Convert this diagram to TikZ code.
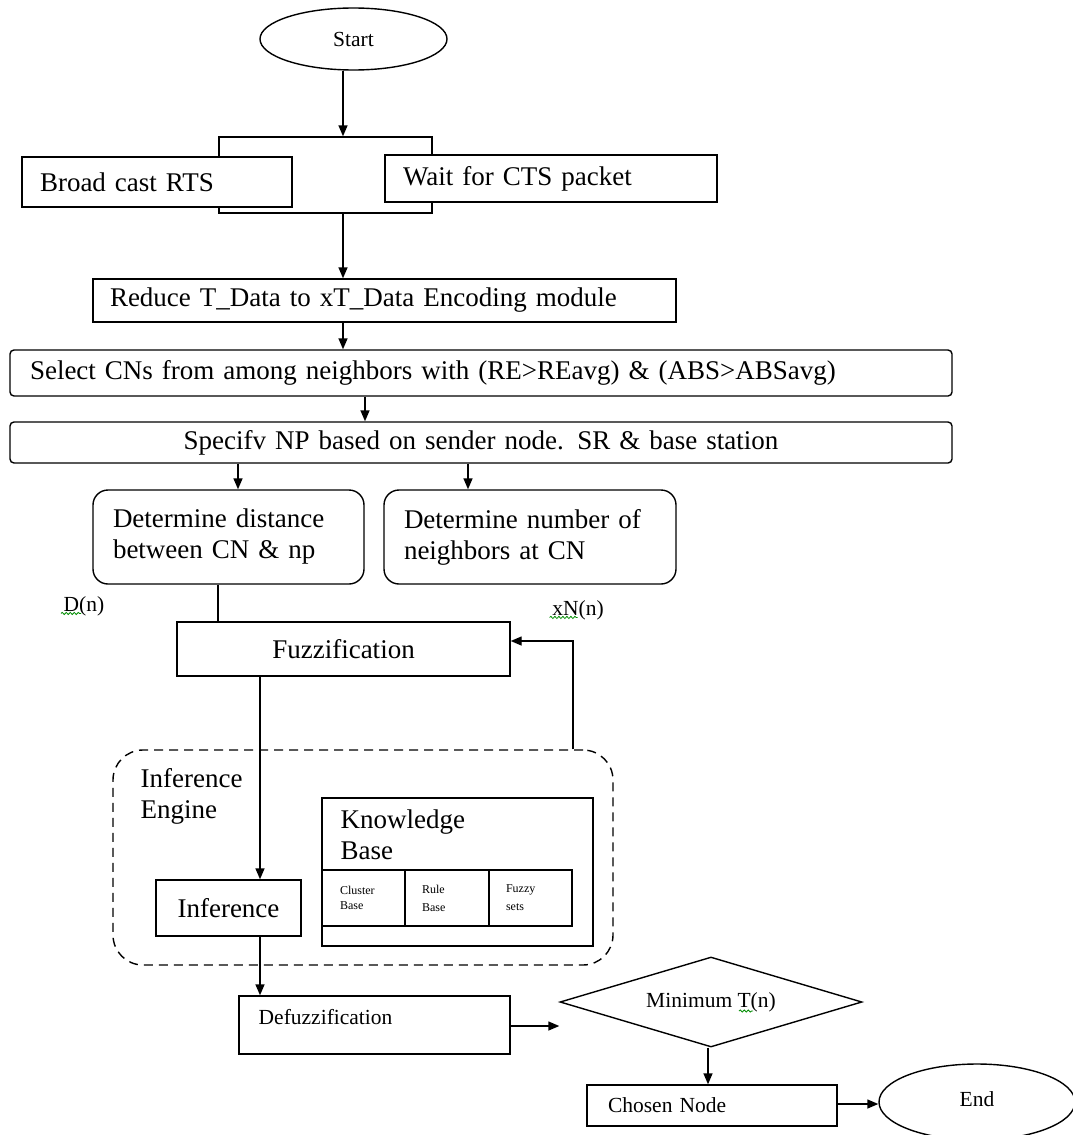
\documentclass[tikz,border=0pt]{standalone}
\usepackage{fontspec}
\setmainfont{Liberation Serif}
\usetikzlibrary{arrows.meta,shapes.geometric,decorations.pathmorphing}
\newcommand\fzmain{\fontsize{27}{31}\selectfont}
\newcommand\fzsmall{\fontsize{21.5}{25}\selectfont}
\newcommand\fztiny{\fontsize{12}{18}\selectfont}
\begin{document}
\begin{tikzpicture}[x=1pt,y=-1pt,line width=1.4pt,
  arr/.style={-{Triangle[length=11pt,width=9pt]}},
  boxc/.style={draw,rectangle,inner sep=0pt,font=\fzmain,fill=white},
  boxl/.style={draw,rectangle,inner ysep=0pt,font=\fzmain,align=left,fill=white},
  rbox/.style={boxl,rounded corners=4pt},
  dbox/.style={boxl,rounded corners=15pt},
  lbl/.style={inner sep=0pt,font=\fzsmall},
  squig/.style={draw=green!55!black,line width=0.8pt,decorate,decoration={snake,amplitude=1.1pt,segment length=4pt}}
]
\useasboundingbox (0,0) rectangle (1073,1135);
\clip (0,0) rectangle (1073,1135);

% top
\node[draw,ellipse,minimum width=187pt,minimum height=62pt,inner sep=0pt,font=\fzsmall] (start) at (353.5,39) {Start};
\node[draw,minimum width=213pt,minimum height=76pt,inner sep=0pt] (back) at (325.5,175) {};
\node[boxl,minimum height=50pt,inner xsep=18pt,text width=234pt] (bcast) at (157,182) {Broad cast RTS};
\node[boxl,minimum height=47pt,inner xsep=18pt,text width=296pt] (wait) at (551,178.5) {Wait for CTS packet};
\node[boxl,minimum height=43pt,inner xsep=17pt,text width=549pt] (reduce) at (384.5,300.5) {Reduce T\_Data to xT\_Data Encoding module};
\node[rbox,minimum height=46pt,inner xsep=20pt,text width=902pt] (select) at (481,373) {Select CNs from among neighbors with (RE>REavg) \& (ABS>ABSavg)};
\node[rbox,minimum height=41pt,inner xsep=20pt,text width=902pt,align=center] (spec) at (481,442.5) {Specifv NP based on sender node. SR \& base station};
\node[dbox,minimum height=94pt,inner xsep=20pt,text width=231pt] (det1) at (228.5,537) {Determine distance\\between CN \& np};
\node[dbox,minimum height=94pt,inner xsep=20pt,text width=252pt] (det2) at (530,537) {Determine number of\\neighbors at CN};
\node[lbl] (dn) at (84,606) {D(n)};
\node[lbl] (xn) at (578,610) {xN(n)};
\node[boxc,minimum width=333pt,minimum height=54pt] (fuzz) at (343.5,649) {Fuzzification};

% inference engine
\node[draw,dashed,dash pattern=on 9pt off 6pt,rounded corners=30pt,minimum width=500pt,minimum height=215pt,inner sep=0pt] (engine) at (363,857.5) {};
\node[anchor=west,align=left,font=\fzmain,inner sep=0pt] (iet) at (140,796) {Inference\\Engine};
\node[draw,minimum width=271pt,minimum height=148pt,inner sep=0pt] (kb) at (457.5,872) {};
\node[anchor=west,align=left,font=\fzmain,inner sep=0pt] (kbt) at (340,835) {Knowledge\\Base};
\node[draw,minimum height=56pt,inner ysep=0pt,inner xsep=18pt,text width=47pt,align=left,font=\fztiny] (clus) at (363.5,898) {Cluster\\[-3pt]Base};
\node[draw,minimum height=56pt,inner ysep=0pt,inner xsep=17pt,text width=50pt,align=left,font=\fztiny] (rule) at (447,898) {Rule\\Base};
\node[draw,minimum height=56pt,inner ysep=0pt,inner xsep=17pt,text width=49pt,align=left,font=\fztiny] (fset) at (530.5,898) {Fuzzy\\sets};
\node[boxc,minimum width=145pt,minimum height=56pt] (infer) at (228.5,908) {Inference};

% bottom
\node[draw,minimum width=271pt,minimum height=58pt,inner sep=0pt] (defuzz) at (374.5,1025) {};
\node[lbl,anchor=west] (defuzzt) at (258,1017) {Defuzzification};
\node[draw,diamond,aspect=3.3,minimum width=302pt,minimum height=90pt,inner sep=0pt,font=\fzsmall] (mint) at (711,1002) {\raisebox{4pt}{Minimum T(n)}};
\node[draw,minimum height=41pt,inner ysep=0pt,inner xsep=21pt,text width=208pt,align=left,font=\fzsmall] (chosen) at (712,1105.5) {Chosen Node};
\node[draw,ellipse,minimum width=196pt,minimum height=76pt,inner sep=0pt,font=\fzsmall] (endn) at (977,1102) {\raisebox{6pt}{End}};

% connectors
\coordinate (xa) at (343,0);
\coordinate (xb) at (365,0);
\coordinate (xc) at (238,0);
\coordinate (xd) at (468,0);
\coordinate (xe) at (218,0);
\coordinate (xf) at (573,0);
\coordinate (xg) at (260,0);
\coordinate (xh) at (708,0);
\coordinate (yf) at (0,641);
\coordinate (yd) at (0,1026);
\coordinate (ye) at (0,1104);
\draw[arr] (start.south -| xa) -- (back.north -| xa);
\draw[arr] (back.south -| xa) -- (reduce.north -| xa);
\draw[arr] (reduce.south -| xa) -- (select.north -| xa);
\draw[arr] (select.south -| xb) -- (spec.north -| xb);
\draw[arr] (spec.south -| xc) -- (det1.north -| xc);
\draw[arr] (spec.south -| xd) -- (det2.north -| xd);
\draw (det1.south -| xe) -- (fuzz.north -| xe);
\draw[arr] (engine.north -| xf) -- (xf |- yf) -- (fuzz.east |- yf);
\draw[arr] (fuzz.south -| xg) -- (infer.north -| xg);
\draw[arr] (infer.south -| xg) -- (defuzz.north -| xg);
\draw[arr] (defuzz.east |- yd) -- (mint.west |- yd);
\draw[arr] (mint.south -| xh) -- (chosen.north -| xh);
\draw[arr] (chosen.east |- ye) -- (endn.west |- ye);

% spell-check squiggles
\draw[squig] ([xshift=-2pt,yshift=3pt]dn.south west) -- ++(20,0);
\draw[squig] ([xshift=-2pt,yshift=3pt]xn.south west) -- ++(28,0);
\draw[squig] (739,1011) -- ++(14,0);
\end{tikzpicture}
\end{document}
